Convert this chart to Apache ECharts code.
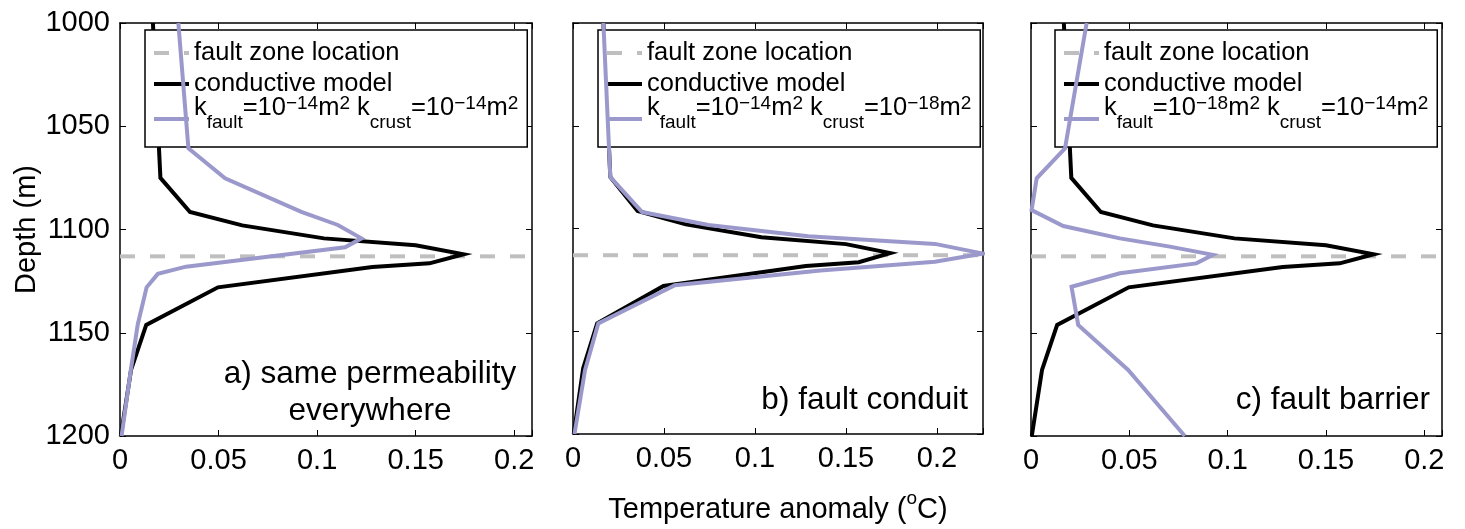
<!DOCTYPE html>
<html>
<head>
<meta charset="utf-8">
<script src="https://cdn.jsdelivr.net/npm/echarts@6/dist/echarts.min.js"></script>
<style>
html,body{margin:0;padding:0;background:#fff;}
#chart{width:1465px;height:529px;}
</style>
</head>
<body>
<div id="chart"></div>
<script>
// ---- data ----
const faultDepth = 1113;
const depthTicks = [1000, 1050, 1100, 1150, 1200];
const tempTicks = [0, 0.05, 0.1, 0.15, 0.2];
const panelMax = [0.209, 0.2253, 0.209];

// conductive model (same in all panels)
const condDepth = [1000, 1075, 1091.5, 1098, 1104.3, 1107.6, 1112, 1116.4, 1118.2, 1128, 1146.2, 1168, 1200];
const condTemp  = [0.0167, 0.0205, 0.0355, 0.062, 0.1035, 0.150, 0.1743, 0.157, 0.128, 0.0497, 0.0133, 0.0056, 0.0004];

// a) same permeability everywhere
const aDepth = [1000, 1060.7, 1075.2, 1091.5, 1097.8, 1104.3, 1108.6, 1118, 1121.5, 1128, 1146, 1168, 1200];
const aTemp  = [0.0296, 0.0347, 0.0533, 0.092, 0.1105, 0.1225, 0.1142, 0.0335, 0.0192, 0.0135, 0.009, 0.0055, 0.0008];

// b) fault conduit
const bDepth = [1000, 1075, 1092, 1098.3, 1103.8, 1107.5, 1112.2, 1116.2, 1120.4, 1127.6, 1146.2, 1169, 1200];
const bTemp  = [0.0167, 0.0205, 0.038, 0.0744, 0.1293, 0.1989, 0.2253, 0.1989, 0.136, 0.056, 0.0139, 0.0066, 0.0008];

// c) fault barrier
const cDepth = [1000, 1060.7, 1075.2, 1090.6, 1098.3, 1104.3, 1108.3, 1112.3, 1116.4, 1121.2, 1127.7, 1146.2, 1168, 1200];
const cTemp  = [0.0283, 0.0173, 0.0029, 0.0003, 0.0164, 0.0452, 0.0706, 0.0925, 0.0841, 0.0452, 0.0206, 0.024, 0.0494, 0.0782];

const panelLabels = ['a) same permeability\neverywhere', 'b) fault conduit', 'c) fault barrier'];
const kNames = ['kA', 'kB', 'kC'];
const kText = [
  '{n|k}{b|fault}{n|=10}{p|\u221214}{n|m}{p|2}{n| k}{b|crust}{n|=10}{p|\u221214}{n|m}{p|2}',
  '{n|k}{b|fault}{n|=10}{p|\u221214}{n|m}{p|2}{n| k}{b|crust}{n|=10}{p|\u221218}{n|m}{p|2}',
  '{n|k}{b|fault}{n|=10}{p|\u221218}{n|m}{p|2}{n| k}{b|crust}{n|=10}{p|\u221214}{n|m}{p|2}'
];
const blueData = [[aTemp, aDepth], [bTemp, bDepth], [cTemp, cDepth]];

// ---- layout / style ----
const FONT = 'Liberation Sans, Arial, Helvetica, sans-serif';
const grids = [
  {left: 120, top: 23, width: 412, height: 413},
  {left: 573, top: 23, width: 410, height: 413},
  {left: 1031, top: 23, width: 411, height: 413}
];
const legendLeft = [145, 598, 1055];
const BLUE = '#9b99cc';
const GRAY = '#bfbfbf';

function pairs(t, d) { return t.map((v, k) => [v, d[k]]); }
function isTick(v) { return tempTicks.some(t => Math.abs(t - v) < 1e-9); }

const xAxis = [], yAxis = [], series = [], legend = [], graphics = [];
grids.forEach((g, i) => {
  const common = {
    gridIndex: i, type: 'value', min: 0, max: panelMax[i], interval: 0.05,
    axisLine: {show: true, onZero: false, lineStyle: {color: '#000', width: 1.5}},
    axisTick: {show: true, inside: true, length: 6, lineStyle: {color: '#000', width: 1}},
    splitLine: {show: false}
  };
  xAxis.push(Object.assign({}, common, {
    position: 'bottom',
    axisLabel: {show: true, color: '#000', fontFamily: FONT, fontSize: 29, margin: 10,
      formatter: v => isTick(v) ? String(+v.toFixed(2)) : ''},
    name: i === 1 ? '{t|Temperature anomaly (}{s|o}{t|C)}' : '',
    nameLocation: 'middle', nameGap: 55,
    nameTextStyle: {rich: {
      t: {fontFamily: FONT, fontSize: 29, color: '#000', lineHeight: 32, verticalAlign: 'top', padding: [6, 0, 0, 0]},
      s: {fontFamily: FONT, fontSize: 19, color: '#000', lineHeight: 19, verticalAlign: 'top', padding: [0, 0, 0, 0]}
    }}
  }));
  xAxis.push(Object.assign({}, common, {position: 'top', axisLabel: {show: false}}));
  const ycommon = {
    gridIndex: i, type: 'value', inverse: true, min: 1000, max: 1200, interval: 50,
    axisLine: {show: true, onZero: false, lineStyle: {color: '#000', width: 1.5}},
    axisTick: {show: true, inside: true, length: 6, lineStyle: {color: '#000', width: 1}},
    splitLine: {show: false}
  };
  yAxis.push(Object.assign({}, ycommon, {
    position: 'left',
    axisLabel: {show: i === 0, color: '#000', fontFamily: FONT, fontSize: 29, margin: 10,
      formatter: v => depthTicks.indexOf(v) >= 0 ? String(v) : ''},
    name: i === 0 ? 'Depth (m)' : '', nameLocation: 'middle', nameGap: 72,
    nameTextStyle: {fontFamily: FONT, fontSize: 29, color: '#000'}
  }));
  yAxis.push(Object.assign({}, ycommon, {position: 'right', axisLabel: {show: false}}));

  series.push({
    type: 'line', name: 'fault zone location', xAxisIndex: 2 * i, yAxisIndex: 2 * i,
    data: [[0, faultDepth], [panelMax[i], faultDepth]], symbol: 'none', silent: true,
    lineStyle: {color: GRAY, width: 4, type: [15, 15]}, itemStyle: {color: GRAY}, z: 2
  });
  series.push({
    type: 'line', name: 'conductive model', xAxisIndex: 2 * i, yAxisIndex: 2 * i,
    data: pairs(condTemp, condDepth), symbol: 'none', silent: true,
    lineStyle: {color: '#000', width: 4, join: 'miter'}, itemStyle: {color: '#000'}, z: 3
  });
  series.push({
    type: 'line', name: kNames[i], xAxisIndex: 2 * i, yAxisIndex: 2 * i,
    data: pairs(blueData[i][0], blueData[i][1]), symbol: 'none', silent: true,
    lineStyle: {color: BLUE, width: 4, join: 'miter'}, itemStyle: {color: BLUE}, z: 4
  });

  legend.push({
    orient: 'vertical', left: legendLeft[i], top: 30,
    padding: [2, 9, 15, 7], itemGap: -11, itemWidth: 35, itemHeight: 14,
    backgroundColor: '#fff', borderColor: '#000', borderWidth: 1.5, borderRadius: 0,
    selectedMode: false,
    lineStyle: {width: 4},
    itemStyle: {color: 'rgba(0,0,0,0)', borderColor: 'rgba(0,0,0,0)', borderWidth: 0, opacity: 0},
    data: ['fault zone location', 'conductive model', kNames[i]],
    formatter: name => name === kNames[i] ? kText[i] : name,
    textStyle: {
      fontFamily: FONT, fontSize: 25.5, color: '#000', lineHeight: 42,
      rich: {
        n: {fontFamily: FONT, fontSize: 25.5, color: '#000', lineHeight: 12, verticalAlign: 'top', padding: [-18, 0, 0, 0]},
        p: {fontFamily: FONT, fontSize: 19, color: '#000', lineHeight: 12, verticalAlign: 'top', padding: [-19, 0, 0, 0]},
        b: {fontFamily: FONT, fontSize: 19, color: '#000', lineHeight: 12, verticalAlign: 'top', padding: [0, 0, 0, 0]}
      }
    }
  });
});

graphics.push({type: 'text', x: 370, y: 393, style: {text: panelLabels[0], fontFamily: FONT, fontSize: 31.5, lineHeight: 37, fill: '#000', align: 'center', verticalAlign: 'middle'}, z: 10});
graphics.push({type: 'text', x: 968, y: 400, style: {text: panelLabels[1], fontFamily: FONT, fontSize: 31.5, fill: '#000', align: 'right', verticalAlign: 'middle'}, z: 10});
graphics.push({type: 'text', x: 1430, y: 400, style: {text: panelLabels[2], fontFamily: FONT, fontSize: 31.5, fill: '#000', align: 'right', verticalAlign: 'middle'}, z: 10});

const chart = echarts.init(document.getElementById('chart'), null, {renderer: 'canvas'});
chart.setOption({
  animation: false,
  backgroundColor: '#fff',
  grid: grids,
  xAxis: xAxis,
  yAxis: yAxis,
  legend: legend,
  series: series,
  graphic: graphics
});
</script>
</body>
</html>
